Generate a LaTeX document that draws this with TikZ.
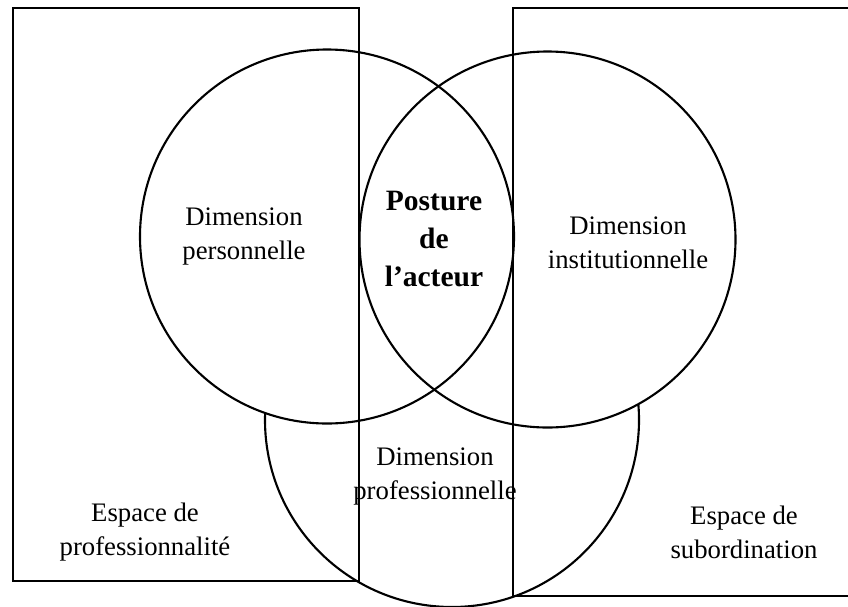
\documentclass[tikz,border=0pt]{standalone}
\usepackage{fontspec}
\setmainfont{Liberation Serif}
\begin{document}
\begin{tikzpicture}[x=0.025cm,y=-0.025cm,line width=1.5pt,
    lbl/.style={align=center,font=\fontsize{19}{24}\selectfont},
    hub/.style={align=center,font=\fontsize{21}{26.7}\selectfont\bfseries}]
    \useasboundingbox (0,0) rectangle (848,606);
    \draw (452,420) circle (187);
    \fill[white] (327,236.5) circle (187);
    \fill[white] (547.5,239.5) circle (188);
    \draw (327,236.5) circle (187);
    \draw (547.5,239.5) circle (188);
    \draw (13,8) rectangle (359,581);
    \draw (513,8) rectangle (870,596);
    \node[lbl] (perso) at (244,236.5) {Dimension\\personnelle};
    \node[lbl] (insti) at (628,243) {Dimension\\institutionnelle};
    \node[lbl] (profe) at (435,476.5) {Dimension\\professionnelle};
    \node[hub] (posture) at (434,239) {Posture\\de\\l’acteur};
    \node[lbl] (espprof) at (145,532) {Espace de\\professionnalité};
    \node[lbl] (espsub) at (744,532) {Espace de\\subordination};
\end{tikzpicture}
\end{document}
